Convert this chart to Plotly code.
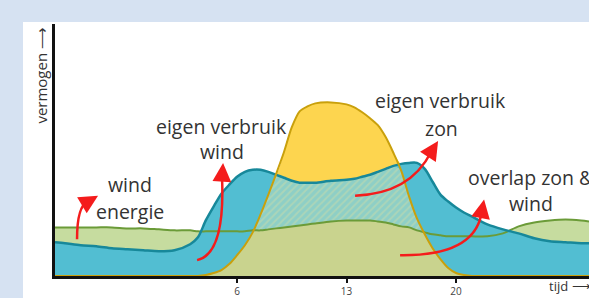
import plotly.graph_objects as go

# ---- data (x = tijd, y = vermogen, arbitrary units) ----
tijd = [-5.64, -5, -4, -3, -2, -1, 0, 1, 2, 3, 3.5, 4, 4.5, 5, 5.5, 6, 6.5, 7, 7.5, 8,
        8.5, 9, 9.5, 10, 10.5, 11, 12, 13, 13.5, 14, 14.5, 15, 15.5, 16, 16.5, 17, 17.5,
        18, 18.5, 19, 19.5, 20, 20.5, 21, 22, 23, 24, 25, 26, 27, 28, 28.5]

wind = [49, 49, 49, 49, 49, 48, 48, 47, 46, 46, 45, 45, 45, 45, 45, 45, 45, 46, 46, 47,
        48, 49, 50, 51, 52, 53, 55, 56, 56, 56, 56, 55, 54, 52, 50, 49, 46,
        44, 42, 41, 40, 40, 40, 40, 40, 43, 50, 54, 56, 57, 56, 55]

verbruik = [34, 33, 31, 30, 28, 27, 26, 25, 26, 32, 39, 56, 70, 83, 92, 100, 105, 107, 107, 105,
            102, 99, 96, 94, 94, 94, 96, 97, 98, 100, 102, 105, 108, 111, 113, 114, 114,
            108, 95, 82, 75, 69, 64, 60, 52, 47, 43, 38, 35, 34, 33, 33]

zon = [0, 0, 0, 0, 0, 0, 0, 0, 0, 0, 0, 1, 3, 6, 12, 21, 31, 44, 62, 82,
       103, 125, 150, 166, 171, 174, 175, 173, 170, 165, 159, 152, 140, 124, 106, 80, 58,
       42, 28, 17, 8, 3, 1, 0, 0, 0, 0, 0, 0, 0, 0, 0]

tick_vals = [6, 13, 20]
tick_text = ["6", "13", "20"]

# derived overlap regions
zon_top = [max(z, v) for z, v in zip(zon, verbruik)]
zon_verbruik = [min(z, v) for z, v in zip(zon, verbruik)]
zon_wind = [min(z, w, v) for z, w, v in zip(zon, wind, verbruik)]

# ---- helpers for px -> data (only for decoration: arrows and labels) ----
def dx(px):
    return 6 + (px - 237) / 15.64

def dy(py):
    return 278 - py

fig = go.Figure()
spl = dict(shape="spline", smoothing=0.8, width=0)

fig.add_trace(go.Scatter(x=tijd, y=wind, mode="lines", fill="tozeroy",
                         fillcolor="#c6dc9f", line=spl, hoverinfo="skip"))
fig.add_trace(go.Scatter(x=tijd, y=verbruik, mode="lines", fill="tozeroy",
                         fillcolor="#52bed2", line=spl, hoverinfo="skip"))
fig.add_trace(go.Scatter(x=tijd, y=verbruik, mode="lines", line=spl, hoverinfo="skip"))
fig.add_trace(go.Scatter(x=tijd, y=zon_top, mode="lines", fill="tonexty",
                         fillcolor="#fdd54f", line=spl, hoverinfo="skip"))
fig.add_trace(go.Scatter(x=tijd, y=zon_verbruik, mode="lines", fill="tozeroy",
                         fillcolor="#8ecfc6", line=spl, hoverinfo="skip",
                         fillpattern=dict(shape="/", bgcolor="#8ecfc6", fgcolor="#c9dcaa",
                                          size=5, solidity=0.35)))
fig.add_trace(go.Scatter(x=tijd, y=zon_wind, mode="lines", fill="tozeroy",
                         fillcolor="#c9d38e", line=spl, hoverinfo="skip"))

fig.add_trace(go.Scatter(x=tijd, y=wind, mode="lines", hoverinfo="skip",
                         line=dict(shape="spline", smoothing=0.8, width=2, color="#6b9b38")))
fig.add_trace(go.Scatter(x=tijd, y=verbruik, mode="lines", hoverinfo="skip",
                         line=dict(shape="spline", smoothing=0.8, width=2.5, color="#17889a")))
fig.add_trace(go.Scatter(x=tijd, y=zon, mode="lines", hoverinfo="skip",
                         line=dict(shape="spline", smoothing=0.8, width=2, color="#c9a00c")))

# ---- red curved arrows (px coordinates of tail, control, end, tip) ----
arrows = [
    ((77, 241), (77, 207), (88, 203), (98, 197)),
    ((197, 262), (225, 256), (222, 180), (223, 164)),
    ((355, 197), (410, 195), (431, 153), (438, 142)),
    ((400, 257), (472, 258), (481, 217), (484, 201)),
]
shapes = [dict(type="rect", xref="paper", yref="paper", layer="below",
               x0=(23 - 55) / 534, x1=1.01, y0=-0.1, y1=(278 - 22) / 254,
               fillcolor="white", line=dict(width=0))]
annotations = []
red = "#f41c1c"
for (t, c, e, tip) in arrows:
    shapes.append(dict(type="path", xref="x", yref="y",
                       path=f"M {dx(t[0])},{dy(t[1])} Q {dx(c[0])},{dy(c[1])} {dx(e[0])},{dy(e[1])}",
                       line=dict(color=red, width=2.5)))
    annotations.append(dict(x=dx(tip[0]), y=dy(tip[1]), ax=dx(e[0]), ay=dy(e[1]),
                            xref="x", yref="y", axref="x", ayref="y", text="",
                            showarrow=True, arrowhead=2, arrowsize=1.5, arrowwidth=2.5,
                            arrowcolor=red))

label_font = dict(family="'Open Sans', sans-serif", size=19.5, color="#333333")
labels = [
    ("wind", 130, 186), ("energie", 130, 213),
    ("eigen verbruik", 221, 127), ("wind", 222, 153),
    ("eigen verbruik", 440, 101), ("zon", 441, 129),
    ("overlap zon &", 531, 179), ("wind", 531, 205),
]
for txt, px, py in labels:
    annotations.append(dict(x=dx(px), y=dy(py), xref="x", yref="y", text=txt,
                            showarrow=False, font=label_font, xanchor="center", yanchor="middle"))

annotations.append(dict(x=(41 - 55) / 534, y=(278 - 76) / 254, xref="paper", yref="paper",
                        text="vermogen ⟶", textangle=-90, showarrow=False,
                        font=dict(family="'Open Sans', sans-serif", size=15, color="#333333"),
                        xanchor="center", yanchor="middle"))
annotations.append(dict(x=(547 - 55) / 534, y=-(288 - 278) / 254, xref="paper", yref="paper",
                        text="tijd ⟶", showarrow=False,
                        font=dict(family="'Open Sans', sans-serif", size=13, color="#333333"),
                        xanchor="left", yanchor="middle"))

fig.update_layout(
    width=589, height=298,
    margin=dict(l=55, r=0, t=24, b=20),
    paper_bgcolor="#d6e2f2", plot_bgcolor="white",
    showlegend=False,
    shapes=shapes, annotations=annotations,
    xaxis=dict(range=[-5.64, 28.5], showgrid=False, zeroline=False, showline=True,
               linecolor="#111111", linewidth=2.5, tickvals=tick_vals, ticktext=tick_text,
               ticks="outside", ticklen=4, tickwidth=1.5, tickcolor="#111111",
               tickfont=dict(family="'Open Sans', sans-serif", size=10, color="#444444")),
    yaxis=dict(range=[0, 254], showgrid=False, zeroline=False, showline=True,
               linecolor="#111111", linewidth=2.5, showticklabels=False, ticks=""),
)

fig.write_html("out.html", config={"displayModeBar": False},
               post_script="document.body.style.margin='0';document.body.style.overflow='hidden';")
